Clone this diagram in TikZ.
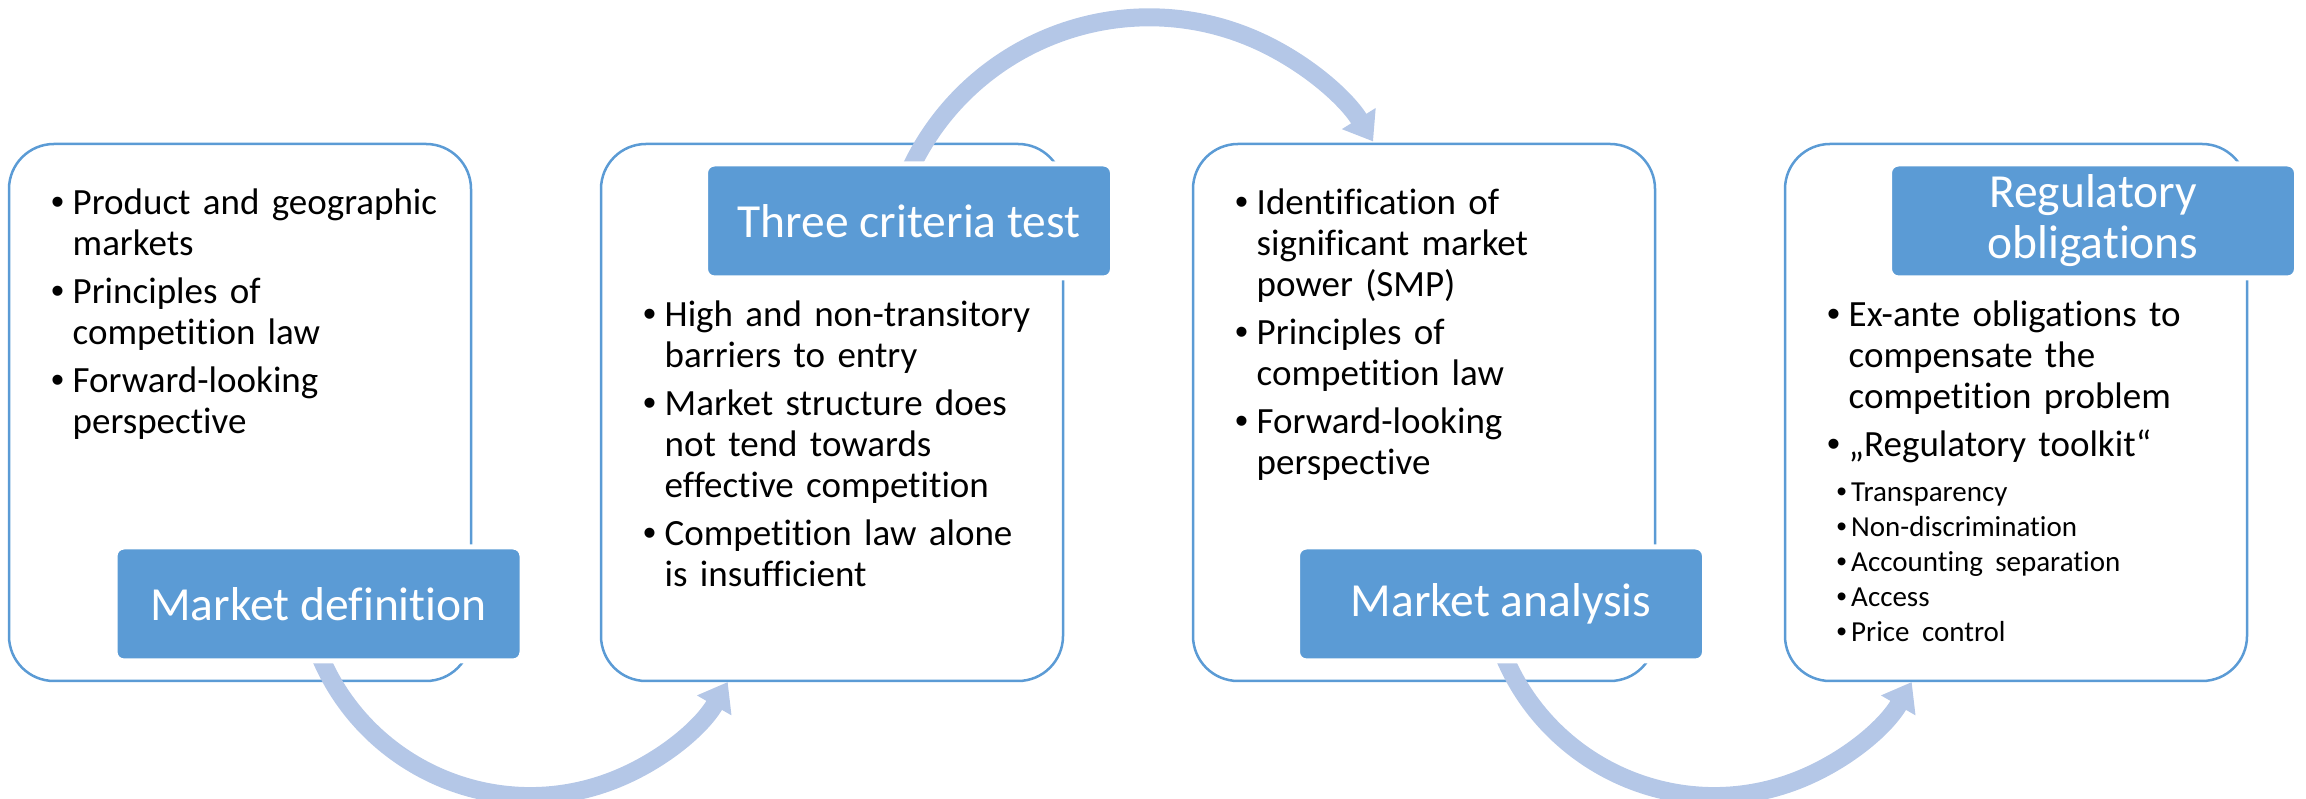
\documentclass[tikz,border=0pt]{standalone}
\usepackage{fontspec}
\setmainfont{Carlito}[Ligatures=NoCommon]
\newfontfamily\dotfont{Liberation Sans}
\usetikzlibrary{arrows.meta,positioning}
\definecolor{accent}{HTML}{5B9BD5}
\definecolor{flowc}{HTML}{B4C7E7}
\newcommand{\bitem}[1]{\noindent\hangindent=21.5pt\hangafter=1\strut\makebox[21.5pt][l]{\dotfont\textbullet}#1\par}
\newcommand{\sitem}[1]{\noindent\hspace*{9.5pt}\strut\makebox[14.5pt][l]{\dotfont\textbullet}#1\par}
\tikzset{
  stage/.style={draw=accent,line width=2.5pt,rounded corners=45pt,minimum width=462pt,minimum height=537pt,inner sep=0pt,outer sep=0pt},
  tag/.style={fill=accent,draw=white,line width=5pt,rounded corners=9pt,minimum width=407pt,minimum height=114pt,inner sep=0pt,outer sep=0pt,text=white,align=center,font=\fontsize{47.5}{51}\selectfont},
  points/.style={anchor=north west,inner sep=0pt,text width=395pt,align=left,font=\fontsize{37}{41}\selectfont,execute at begin node={\setlength{\parskip}{7pt}}},
  flow/.style={draw=flowc,line width=18pt,-{Triangle[length=27pt,width=38pt]}}
}
\begin{document}
\begin{tikzpicture}[x=1pt,y=1pt]
	\useasboundingbox (0,0) rectangle (2306,799);
	\clip (0,0) rectangle (2306,799);
	\node[stage] (box1) at (240,386.5) {};
	\node[stage,right=130pt of box1] (box2) {};
	\node[stage,right=130pt of box2] (box3) {};
	\node[stage,right=130pt of box3] (box4) {};
	% curved arrows from one step to the next
	\draw[flow] ([shift={(76,35)}]box1.south) arc[start angle=200,end angle=330,radius=228pt];
	\draw[flow] ([shift={(76,-30)}]box2.north) arc[start angle=156,end angle=32,radius=264pt];
	\draw[flow] ([shift={(76,35)}]box3.south) arc[start angle=200,end angle=330,radius=228pt];
	\node[tag] (lab1) at ([shift={(78.5,-191.5)}]box1.center) {Market definition};
	\node[tag] (lab2) at ([shift={(77,191.5)}]box2.center) {Three criteria test};
	\node[tag] (lab3) at ([shift={(77,-191.5)}]box3.center) {Market analysis};
	\node[tag] (lab4) at ([shift={(77,191.5)}]box4.center) {Regulatory\\obligations};
	\node[points] (pts1) at ([shift={(42,-42)}]box1.north west) {%
		\bitem{Product and geographic\newline markets}
		\bitem{Principles of\newline competition law}
		\bitem{Forward-looking\newline perspective}};
	\node[points] (pts2) at ([shift={(42,-154)}]box2.north west) {%
		\bitem{High and non-transitory\newline barriers to entry}
		\bitem{Market structure does\newline not tend towards\newline effective competition}
		\bitem{Competition law alone\newline is insufficient}};
	\node[points] (pts3) at ([shift={(42,-42)}]box3.north west) {%
		\bitem{Identification of\newline significant market\newline power (SMP)}
		\bitem{Principles of\newline competition law}
		\bitem{Forward-looking\newline perspective}};
	\node[points] (pts4) at ([shift={(42,-154)}]box4.north west) {%
		\bitem{Ex-ante obligations to\newline compensate the\newline competition problem}
		\bitem{„Regulatory toolkit“}
		\fontsize{29}{35}\selectfont
		\sitem{Transparency}
		\setlength{\parskip}{0pt}%
		\sitem{Non-discrimination}
		\sitem{Accounting separation}
		\sitem{Access}
		\sitem{Price control}};
\end{tikzpicture}
\end{document}
